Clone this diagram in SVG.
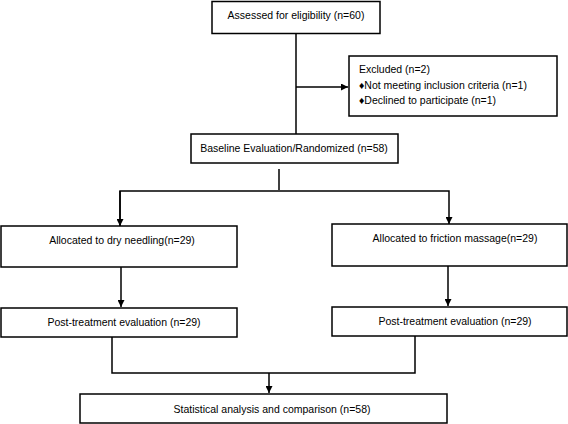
<svg xmlns="http://www.w3.org/2000/svg" width="568" height="424" viewBox="0 0 568 424">
<defs>
<style>
.box{fill:#fff;stroke:#000;stroke-width:1.5}
.ln{fill:none;stroke:#000;stroke-width:1.5}
text{font-family:"Liberation Sans",Arial,sans-serif;font-size:10.5px;fill:#000}
.c{text-anchor:middle}
</style>
<marker id="ah" viewBox="0 0 10 10" refX="10" refY="5" markerWidth="7" markerHeight="7" markerUnits="userSpaceOnUse" orient="auto">
<path d="M0,0 L10,5 L0,10 Z" fill="#000"/>
</marker>
</defs>
<g id="connectors">
<path class="ln" d="M296,33 V134"/>
<path class="ln" d="M296,87 H348" marker-end="url(#ah)"/>
<path class="ln" d="M279,169 V190"/>
<path class="ln" d="M120,226 V191 H449 V224" marker-end="url(#ah)"/>
<path class="ln" d="M120,191 V226" marker-end="url(#ah)"/>
<path class="ln" d="M121,267 V307" marker-end="url(#ah)"/>
<path class="ln" d="M448,266 V306" marker-end="url(#ah)"/>
<path class="ln" d="M112,337 V373 H415 V336"/>
<path class="ln" d="M269,373 V393" marker-end="url(#ah)"/>
</g>
<g id="n1"><rect class="box" x="212" y="1.5" width="168" height="32"/><text class="c" x="296" y="19">Assessed for eligibility (n=60)</text></g>
<g id="n2"><rect class="box" x="349" y="56" width="208" height="60"/>
<text x="359" y="73">Excluded (n=2)</text>
<text x="359" y="89">♦Not meeting inclusion criteria (n=1)</text>
<text x="359" y="104">♦Declined to participate (n=1)</text></g>
<g id="n3"><rect class="box" x="191" y="134" width="207" height="29"/><text class="c" x="294" y="152">Baseline Evaluation/Randomized (n=58)</text></g>
<g id="n4"><rect class="box" x="1" y="226" width="236" height="41"/><text class="c" x="122" y="244">Allocated to dry needling(n=29)</text></g>
<g id="n5"><rect class="box" x="332" y="224" width="235" height="42"/><text class="c" x="455" y="242">Allocated to friction massage(n=29)</text></g>
<g id="n6"><rect class="box" x="1" y="308" width="236" height="29"/><text class="c" x="124" y="326">Post-treatment evaluation (n=29)</text></g>
<g id="n7"><rect class="box" x="332" y="307" width="235" height="29"/><text class="c" x="455" y="325">Post-treatment evaluation (n=29)</text></g>
<g id="n8"><rect class="box" x="80" y="394" width="367" height="29"/><text class="c" x="272" y="413">Statistical analysis and comparison (n=58)</text></g>
</svg>
